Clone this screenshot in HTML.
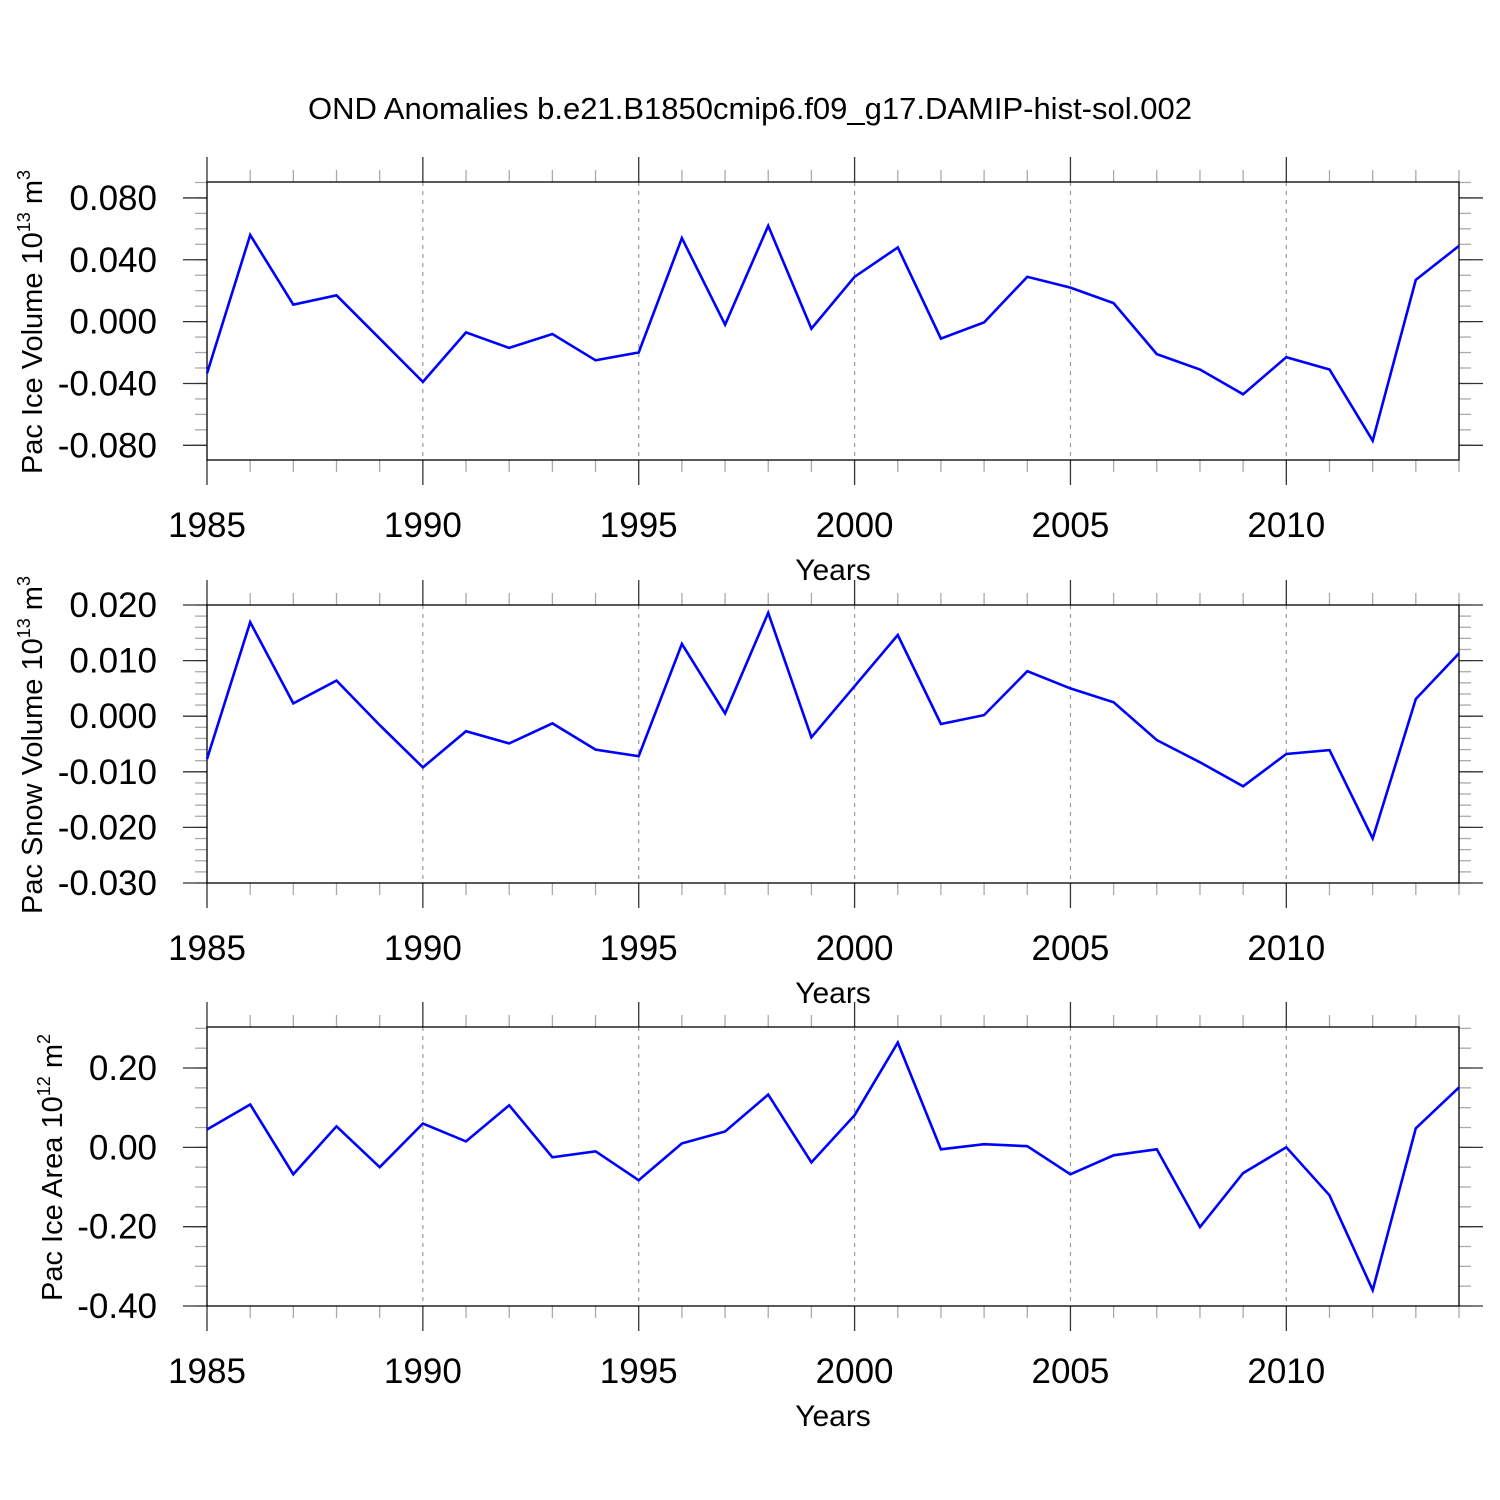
<!DOCTYPE html>
<html><head><meta charset="utf-8"><style>
html,body{margin:0;padding:0;background:#fff;}
svg{display:block;font-family:"Liberation Sans",Arial,sans-serif;}
</style></head><body>
<svg id="chart" width="1500" height="1500" viewBox="0 0 1500 1500">
<text x="750" y="119" text-anchor="middle" font-size="31">OND Anomalies b.e21.B1850cmip6.f09_g17.DAMIP-hist-sol.002</text>
</svg>
<script>
const years = [1985,1986,1987,1988,1989,1990,1991,1992,1993,1994,1995,1996,1997,1998,1999,2000,2001,2002,2003,2004,2005,2006,2007,2008,2009,2010,2011,2012,2013,2014];
const iceVolume = [-0.0335,0.056,0.011,0.017,-0.011,-0.039,-0.007,-0.017,-0.008,-0.025,-0.020,0.054,-0.002,0.062,-0.0045,0.029,0.048,-0.011,-0.0005,0.029,0.022,0.012,-0.021,-0.031,-0.047,-0.023,-0.031,-0.077,0.027,0.049];
const snowVolume = [-0.0077,0.0169,0.0023,0.0064,-0.0016,-0.0092,-0.0027,-0.0049,-0.0013,-0.006,-0.0072,0.013,0.0005,0.0186,-0.0038,0.0054,0.0146,-0.0014,0.0002,0.0081,0.005,0.0025,-0.0043,-0.0083,-0.0126,-0.0068,-0.0061,-0.022,0.0031,0.0113];
const iceArea = [0.045,0.108,-0.068,0.053,-0.050,0.060,0.015,0.106,-0.025,-0.010,-0.083,0.010,0.040,0.133,-0.038,0.081,0.264,-0.005,0.008,0.003,-0.068,-0.020,-0.005,-0.201,-0.065,0,-0.121,-0.36,0.048,0.151];
const xTickLabels = ["1985","1990","1995","2000","2005","2010"];
const iceVolTicks = ["0.080","0.040","0.000","-0.040","-0.080"];
const snowTicks = ["0.020","0.010","0.000","-0.010","-0.020","-0.030"];
const areaTicks = ["0.20","0.00","-0.20","-0.40"];

const NS="http://www.w3.org/2000/svg";
const svg=document.getElementById('chart');
function mk(tag,attrs,parent){const e=document.createElementNS(NS,tag);for(const k in attrs)e.setAttribute(k,attrs[k]);(parent||svg).appendChild(e);return e;}
const X0=207,X1=1459;
function xs(yr){return X0+(yr-1985)*(X1-X0)/29;}

const panels=[
 {name:'ice-volume',top:182,bot:460,vmax:0.0903,vmin:-0.0895,data:iceVolume,ticks:iceVolTicks,minor:0.01,base:"Pac Ice Volume 10",sup:"13",unit:" m",usup:"3",ylx:42},
 {name:'snow-volume',top:605,bot:883,vmax:0.020,vmin:-0.030,data:snowVolume,ticks:snowTicks,minor:0.002,base:"Pac Snow Volume 10",sup:"13",unit:" m",usup:"3",ylx:42},
 {name:'ice-area',top:1027,bot:1306,vmax:0.3034,vmin:-0.40,data:iceArea,ticks:areaTicks,minor:0.05,base:"Pac Ice Area 10",sup:"12",unit:" m",usup:"2",ylx:62}
];

panels.forEach(p=>{
 const g=mk('g',{});
 
 
 const ys=v=>p.bot-(v-p.vmin)*(p.bot-p.top)/(p.vmax-p.vmin);
 xTickLabels.forEach(l=>{const yr=+l;if(yr===1985)return;
  const gl=mk('line',{x1:xs(yr),x2:xs(yr),y1:p.top,y2:p.bot,stroke:'#999','stroke-width':1.2,'stroke-dasharray':'4,5'},g);
  
  
 });
 for(let yr=1985;yr<=2014;yr++){
  const major=(yr%5===0);const L=major?25:12;
  const c=major?'#333':'#aaa';
  mk('line',{x1:xs(yr),x2:xs(yr),y1:p.top-L,y2:p.top,stroke:c,'stroke-width':1.3},g);
  mk('line',{x1:xs(yr),x2:xs(yr),y1:p.bot,y2:p.bot+L,stroke:c,'stroke-width':1.3},g);
 }
 const nmin=Math.ceil(p.vmin/p.minor-1e-6), nmax=Math.floor(p.vmax/p.minor+1e-6);
 for(let i=nmin;i<=nmax;i++){const v=i*p.minor;const y=ys(v);
  mk('line',{x1:X0-12,x2:X0,y1:y,y2:y,stroke:'#aaa','stroke-width':1.3},g);
  mk('line',{x1:X1,x2:X1+12,y1:y,y2:y,stroke:'#aaa','stroke-width':1.3},g);
 }
 p.ticks.forEach(t=>{const y=ys(parseFloat(t));
  mk('line',{x1:X0-24,x2:X0,y1:y,y2:y,stroke:'#333','stroke-width':1.3},g);
  mk('line',{x1:X1,x2:X1+24,y1:y,y2:y,stroke:'#333','stroke-width':1.3},g);
  const tx=mk('text',{x:157,y:y+12,'text-anchor':'end','font-size':35},g);tx.textContent=t;
  
  
 });
 const box=mk('rect',{x:X0,y:p.top,width:X1-X0,height:p.bot-p.top,fill:'none',stroke:'#000','stroke-width':1.3},g);
 
 
 xTickLabels.forEach(l=>{const tx=mk('text',{x:xs(+l),y:p.bot+77,'text-anchor':'middle','font-size':35},g);tx.textContent=l;
  
  
 });
 const xt=mk('text',{x:833,y:p.bot+120,'text-anchor':'middle','font-size':30},g);xt.textContent='Years';
 
 
 const cy=(p.top+p.bot)/2+1;
 const yt=mk('text',{x:0,y:0,'text-anchor':'middle','font-size':29,transform:`translate(${p.ylx},${cy}) rotate(-90)`},g);
 
 
 const t1=document.createElementNS(NS,'tspan');t1.textContent=p.base;yt.appendChild(t1);
 const t2=document.createElementNS(NS,'tspan');t2.setAttribute('dy','-12');t2.setAttribute('font-size','18');t2.textContent=p.sup;yt.appendChild(t2);
 const t3=document.createElementNS(NS,'tspan');t3.setAttribute('dy','12');t3.textContent=p.unit;yt.appendChild(t3);
 const t4=document.createElementNS(NS,'tspan');t4.setAttribute('dy','-12');t4.setAttribute('font-size','18');t4.textContent=p.usup;yt.appendChild(t4);
 const pts=p.data.map((v,i)=>xs(years[i]).toFixed(1)+','+ys(v).toFixed(1)).join(' ');
 const line=mk('polyline',{points:pts,fill:'none',stroke:'#0000ff','stroke-width':2.6,'stroke-linejoin':'miter'},g);
 
 
});
</script>
</body></html>
